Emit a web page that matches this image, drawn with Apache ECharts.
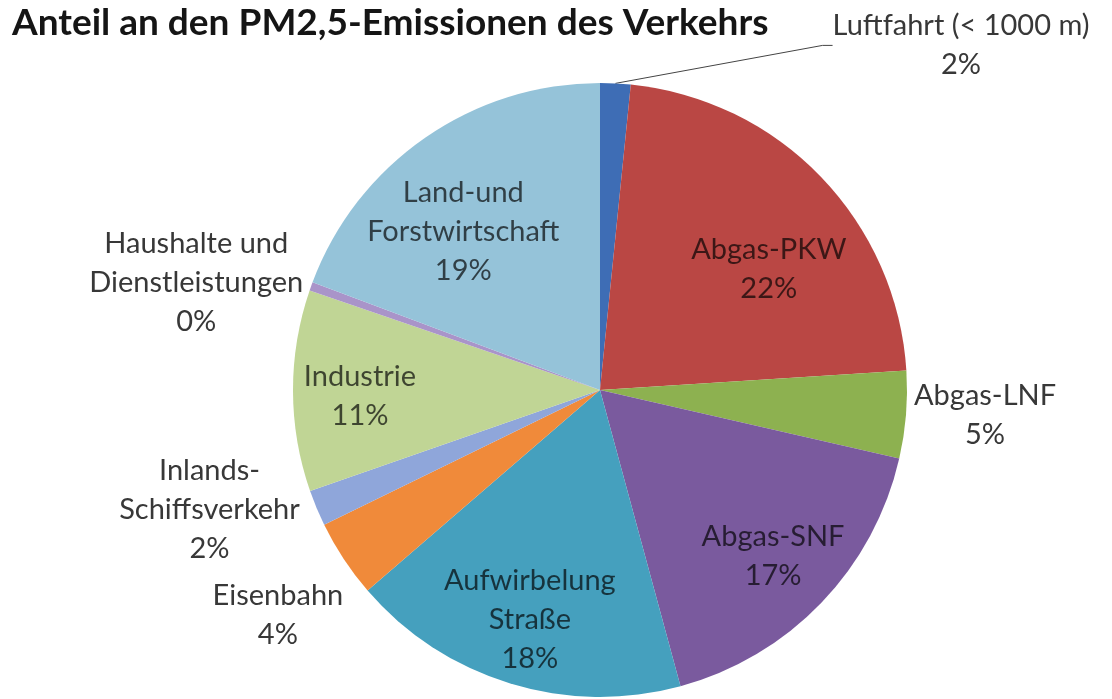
<!DOCTYPE html>
<html><head><meta charset="utf-8">
<script src="https://cdn.jsdelivr.net/npm/echarts@6/dist/echarts.min.js"></script>
<style>html,body{margin:0;padding:0;background:#fff}#c{width:1112px;height:699px}</style>
</head><body><div id="c"></div>
<script>
// ---- data ----
const titleText = 'Anteil an den PM2,5-Emissionen des Verkehrs';
const categories = ['Luftfahrt (< 1000 m)', 'Abgas-PKW', 'Abgas-LNF', 'Abgas-SNF', 'Aufwirbelung\nStraße',
  'Eisenbahn', 'Inlands-\nSchiffsverkehr', 'Industrie', 'Haushalte und\nDienstleistungen', 'Land-und\nForstwirtschaft'];
const shares = [1.6, 22.4, 4.6, 17.2, 17.9, 4.1, 1.9, 10.6, 0.45, 19.3];
const labelInside = [false, true, false, true, true, false, false, true, false, true];

// ---- styles ----
const colors = ['#3E6DB5', '#BA4744', '#8DB150', '#7A5A9E', '#45A0BE', '#F08A3A', '#8FA6DA', '#C0D595', '#A994C9', '#95C3D9'];
const FONT = 'Lato';
const labelNudge = {0: [202, -35], 1: [-4, 46], 5: [7, 54], 6: [-9, 0], 7: [0, 6], 8: [0, -3], 9: [0, 39]};

const total = shares.reduce((a, b) => a + b, 0);
const pct = v => Math.round(v / total * 100) + '%';

const chart = echarts.init(document.getElementById('c'), null, {renderer: 'canvas'});

function centerLayout(p) {
  const r = p.labelRect;
  const n = labelNudge[p.dataIndex] || [0, 0];
  return {x: r.x + r.width / 2 + n[0], y: r.y + r.height / 2 + n[1], align: 'center', verticalAlign: 'middle'};
}

const mainData = categories.map((name, i) => ({
  name: name, value: shares[i],
  itemStyle: {color: colors[i]},
  label: {show: !labelInside[i]},
  labelLine: {show: i === 0, length: 3, length2: i === 0 ? 10 : 0,
    lineStyle: {color: '#444', width: 1}}
}));
const labelData = categories.map((name, i) => ({
  name: name, value: shares[i],
  label: {show: labelInside[i]}
}));

chart.setOption({
  animation: false,
  title: {
    text: titleText, left: 12, top: 5, padding: 0,
    textStyle: {fontFamily: FONT, fontSize: 37, fontWeight: 'bold', color: '#151515'}
  },
  series: [{
    type: 'pie',
    center: [600, 390], radius: 307,
    startAngle: 90, clockwise: true,
    avoidLabelOverlap: false,
    silent: true,
    itemStyle: {borderWidth: 0},
    label: {
      position: 'outside', distanceToLabelLine: 5,
      fontFamily: FONT, fontSize: 29, lineHeight: 39, color: '#383838',
      formatter: p => p.name + '\n' + pct(p.value)
    },
    labelLine: {length: 3, length2: 0},
    labelLayout: centerLayout,
    data: mainData
  }, {
    type: 'pie',
    center: [600, 390], radius: 474,
    startAngle: 90, clockwise: true,
    avoidLabelOverlap: false,
    silent: true,
    itemStyle: {color: 'rgba(0,0,0,0)', borderWidth: 0},
    label: {
      position: 'inside',
      fontFamily: FONT, fontSize: 29, lineHeight: 39, color: 'rgba(0,0,0,0.68)',
      formatter: p => p.name + '\n' + pct(p.value)
    },
    labelLine: {show: false},
    labelLayout: centerLayout,
    data: labelData
  }]
});
</script></body></html>
